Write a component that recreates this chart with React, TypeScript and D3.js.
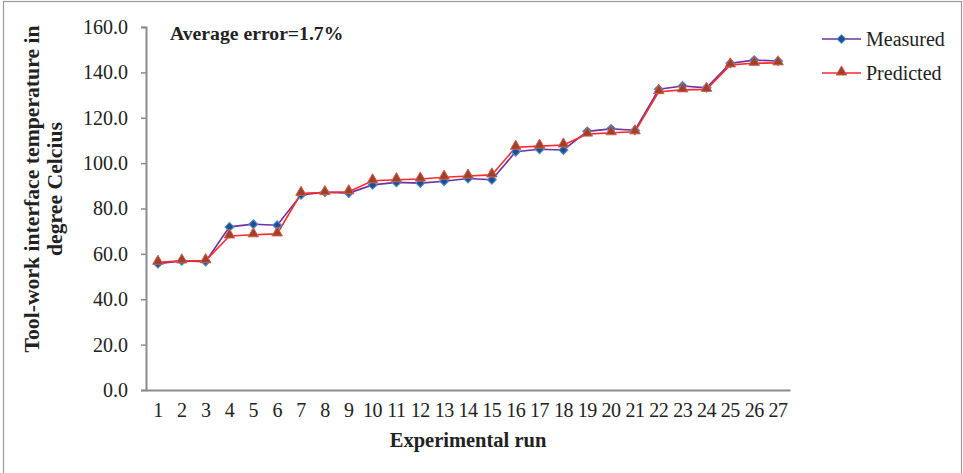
import { useEffect, useRef } from 'react';
import * as d3 from 'd3';

const runs = d3.range(1, 28).map(String);

const measured = [
  55.7, 56.9, 56.6, 71.9, 73.1, 72.6, 86.0, 87.2, 86.8, 90.4, 91.5, 91.2, 92.0, 93.2,
  92.7, 105.0, 106.1, 105.8, 114.0, 115.1, 114.5, 132.6, 134.0, 133.2, 144.0, 145.4, 145.0,
];

const predicted = [
  56.3, 56.9, 57.0, 67.9, 68.4, 68.8, 86.7, 87.0, 87.4, 92.2, 92.7, 93.0, 93.8, 94.3,
  94.8, 107.0, 107.5, 108.0, 112.8, 113.4, 113.8, 131.5, 132.3, 132.5, 143.3, 144.0, 144.2,
];

const yTicks = [0, 20, 40, 60, 80, 100, 120, 140, 160];

const W = 963;
const H = 473;
const margin = { left: 146, right: 173, top: 27, bottom: 83 };
const serif = '"Liberation Serif", "Times New Roman", serif';

const App = () => {
  const svgRef = useRef<SVGSVGElement>(null);

  useEffect(() => {
    const svg = d3.select(svgRef.current);
    svg.selectAll('*').remove();

    // outer frame
    svg
      .append('rect')
      .attr('x', 3.5)
      .attr('y', 1.5)
      .attr('width', 958)
      .attr('height', 490)
      .attr('fill', 'none')
      .attr('stroke', '#9a9a9a')
      .attr('stroke-width', 1.2);

    const x = d3
      .scaleBand()
      .domain(runs)
      .range([margin.left, W - margin.right]);

    const y = d3
      .scaleLinear()
      .domain([0, 160])
      .range([H - margin.bottom, margin.top]);

    const cx = (i: number) => (x(runs[i]) as number) + x.bandwidth() / 2;

    // y axis
    const yAxis = svg
      .append('g')
      .attr('transform', `translate(${margin.left},0)`)
      .call(
        d3
          .axisLeft(y)
          .tickValues(yTicks)
          .tickSize(5)
          .tickPadding(13)
          .tickFormat((d) => d3.format('.1f')(d as number))
      );
    yAxis.select('.domain').attr('stroke', '#8c8c8c').attr('stroke-width', 2);
    yAxis.selectAll('.tick line').attr('stroke', '#8c8c8c').attr('stroke-width', 1.5);
    yAxis
      .selectAll('.tick text')
      .attr('fill', '#222')
      .style('font-family', serif)
      .style('font-size', '20px');

    // x axis
    const xAxis = svg
      .append('g')
      .attr('transform', `translate(0,${H - margin.bottom})`)
      .call(d3.axisBottom(x).tickSize(0).tickSizeOuter(0).tickPadding(13));
    xAxis.select('.domain').attr('stroke', '#8c8c8c').attr('stroke-width', 2);
    xAxis
      .selectAll('.tick text')
      .attr('fill', '#222')
      .style('font-family', serif)
      .style('font-size', '20px')
      .style('letter-spacing', '-0.5px');

    const line = d3
      .line<number>()
      .x((_, i) => cx(i))
      .y((d) => y(d));

    // measured
    svg
      .append('path')
      .attr('d', line(measured))
      .attr('fill', 'none')
      .attr('stroke', '#7030a0')
      .attr('stroke-width', 1.6);

    // predicted
    svg
      .append('path')
      .attr('d', line(predicted))
      .attr('fill', 'none')
      .attr('stroke', '#ff2a2a')
      .attr('stroke-width', 1.6);

    // excel-like diamond = square turned 45deg
    const diamond = d3.symbol().type(d3.symbolSquare).size(38);
    const triangle = d3.symbol().type(d3.symbolTriangle).size(48);

    svg
      .append('g')
      .selectAll('path')
      .data(measured)
      .join('path')
      .attr('d', diamond)
      .attr('transform', (d, i) => `translate(${cx(i)},${y(d)}) rotate(45)`)
      .attr('fill', '#1f4e8c')
      .attr('stroke', '#4a8ad0')
      .attr('stroke-width', 1.2);

    svg
      .append('g')
      .selectAll('path')
      .data(predicted)
      .join('path')
      .attr('d', triangle)
      .attr('transform', (d, i) => `translate(${cx(i)},${y(d) - 1})`)
      .attr('fill', '#a0402a')
      .attr('stroke', '#d06050')
      .attr('stroke-width', 1);

    // legend
    const legend = [
      { label: 'Measured', color: '#7030a0', sym: diamond, rot: 45, fill: '#1f4e8c', edge: '#4a8ad0' },
      { label: 'Predicted', color: '#ff2a2a', sym: triangle, rot: 0, fill: '#a0402a', edge: '#d06050' },
    ];
    legend.forEach((l, i) => {
      const ly = 39 + i * 34;
      const g = svg.append('g');
      g.append('line')
        .attr('x1', 822)
        .attr('x2', 861)
        .attr('y1', ly)
        .attr('y2', ly)
        .attr('stroke', l.color)
        .attr('stroke-width', 1.6);
      g.append('path')
        .attr('d', l.sym)
        .attr('transform', `translate(841.5,${ly - (i ? 1 : 0)}) rotate(${l.rot})`)
        .attr('fill', l.fill)
        .attr('stroke', l.edge)
        .attr('stroke-width', 1);
      g.append('text')
        .attr('x', 866)
        .attr('y', ly + 7)
        .attr('fill', '#222')
        .style('font-family', serif)
        .style('font-size', '20px')
        .text(l.label);
    });

    // annotation
    svg
      .append('text')
      .attr('x', 170)
      .attr('y', 40)
      .attr('fill', '#222')
      .style('font-family', serif)
      .style('font-size', '19.7px')
      .style('font-weight', 'bold')
      .text('Average error=1.7%');

    // axis titles
    const yTitle = svg
      .append('text')
      .attr('transform', 'translate(39,189) rotate(-90)')
      .attr('text-anchor', 'middle')
      .attr('fill', '#222')
      .style('font-family', serif)
      .style('font-size', '21.7px')
      .style('font-weight', 'bold');
    yTitle.append('tspan').attr('x', 0).attr('dy', 0).text('Tool-work interface temperature in');
    yTitle.append('tspan').attr('x', 0).attr('dy', 23).text('degree Celcius');

    svg
      .append('text')
      .attr('x', (margin.left + W - margin.right) / 2)
      .attr('y', 447)
      .attr('text-anchor', 'middle')
      .attr('fill', '#222')
      .style('font-family', serif)
      .style('font-size', '20.5px')
      .style('font-weight', 'bold')
      .text('Experimental run');
  }, []);

  return (
    <svg
      ref={svgRef}
      width={W}
      height={H}
      style={{ position: 'absolute', left: 0, top: 0, background: '#fff' }}
    />
  );
};

export default App;
